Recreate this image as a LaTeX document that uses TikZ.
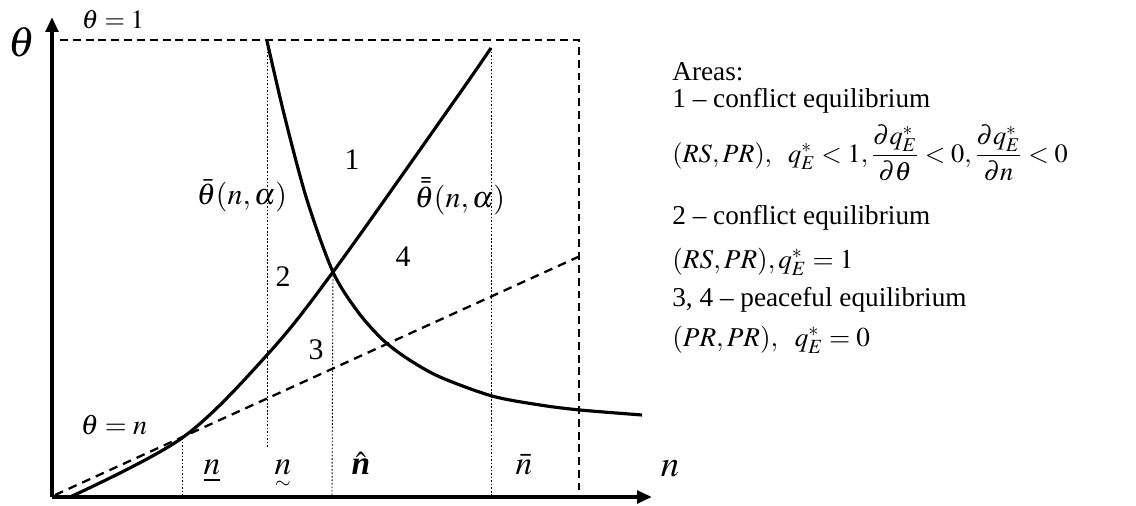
\documentclass[tikz,border=0pt]{standalone}
\usepackage{amsmath}
\usepackage{mathptmx}
\usepackage{fontspec}
\setmainfont{Liberation Serif}
\usetikzlibrary{arrows.meta}

\begin{document}
\begin{tikzpicture}[x=0.02cm,y=-0.02cm,
    axis/.style={line width=2.2pt,-{Triangle[length=0.3cm,width=0.25cm]}},
    curve/.style={line width=1.8pt},
    bound/.style={line width=1pt,dash pattern=on 4.5pt off 2.8pt},
    diag/.style={line width=1.3pt,dash pattern=on 5pt off 3.5pt},
    guide/.style={line width=0.5pt,dash pattern=on 1pt off 1pt},
    lbl/.style={inner sep=0pt,font=\fontsize{17}{19}\selectfont},
    nlbl/.style={inner sep=0pt,anchor=base,font=\fontsize{19}{21}\selectfont},
    big/.style={inner sep=0pt,font=\fontsize{24}{26}\selectfont},
    txt/.style={anchor=west,inner sep=0pt,font=\fontsize{15.5}{17}\selectfont}]
  \useasboundingbox (0,0) rectangle (1136,506);
  \coordinate (O) at (52,497);
  \coordinate (ytip) at (52,17);
  \coordinate (xtip) at (652,497);
  \coordinate (onel) at (60,40);
  \coordinate (oner) at (579,40);
  \coordinate (oneb) at (579,490);
  \coordinate (diagl) at (55,495);
  \coordinate (diagr) at (578,257);
  \coordinate (nlow) at (182,438);
  \coordinate (nlowb) at (182,497);
  \coordinate (ntil) at (267,41);
  \coordinate (ntilb) at (267,447);
  \coordinate (cross) at (333,272);
  \coordinate (nhatb) at (332,497);
  \coordinate (nbar) at (491,48);
  \coordinate (nbarb) at (491,497);

  \draw[guide] (nlow) -- (nlowb);
  \draw[guide] (ntil) -- (ntilb);
  \draw[guide] (cross) -- (nhatb);
  \draw[guide] (nbar) -- (nbarb);
  \draw[bound] (onel) -- (oner) -- (oneb);
  \draw[diag] (diagl) -- (diagr);
  \draw[curve] plot[smooth,tension=0.55] coordinates
    {(70,497) (nlow) (267,355) (cross) (455,100) (nbar)};
  \draw[curve] plot[smooth,tension=0.5] coordinates
    {(ntil) (285,118) (307,200) (cross) (358,312) (383,340) (408,359) (440,377)
     (492,396) (540,405) (580,410) (642,415)};
  \draw[axis] (O) -- (ytip);
  \draw[axis] (O) -- (xtip);

  \node[big] (thax) at (22,42) {$\theta$};
  \node[nlbl,font=\fontsize{21}{23}\selectfont] (nax) at (670,477) {$n$};
  \node[lbl,font=\fontsize{15}{17}\selectfont] (thone) at (113,20) {$\theta=1$};
  \node[lbl,font=\fontsize{16}{18}\selectfont] (then) at (114,425) {$\theta=n$};
  \node[lbl] (thb) at (242,196) {$\bar{\theta}(n,\alpha)$};
  \node[lbl] (thbb) at (460,196) {$\bar{\bar{\theta}}(n,\alpha)$};
  \node[lbl] (aone) at (352,160) {1};
  \node[lbl] (atwo) at (283,277) {2};
  \node[lbl] (athree) at (316,350) {3};
  \node[lbl] (afour) at (403,257) {4};
  \node[nlbl] (nl) at (212,475) {$\underline{n}$};
  \node[nlbl] (nt) at (283,475) {$\underset{\raisebox{9pt}[0pt][0pt]{$\scriptscriptstyle\sim$}}{n}$};
  \node[nlbl] (nh) at (361,475) {$\hat{\mbox{\bfseries\itshape n}}$};
  \node[nlbl] (nb) at (524,475) {$\bar{n}$};

  \node[txt] (areas) at (672,72) {Areas:};
  \node[txt] (confa) at (672,101) {1 -- conflict equilibrium};
  \node[txt,font=\fontsize{15}{17}\selectfont] (eqa) at (672,153)
    {$(RS,PR),\ \ q_E^{*}<1,\dfrac{\partial q_E^{*}}{\partial\theta}<0,\dfrac{\partial q_E^{*}}{\partial n}<0$};
  \node[txt] (confb) at (672,218) {2 -- conflict equilibrium};
  \node[txt] (eqb) at (672,262) {$(RS,PR),q_E^{*}=1$};
  \node[txt] (peace) at (672,300) {3, 4 -- peaceful equilibrium};
  \node[txt] (eqc) at (672,340) {$(PR,PR),\ \ q_E^{*}=0$};
\end{tikzpicture}
\end{document}
